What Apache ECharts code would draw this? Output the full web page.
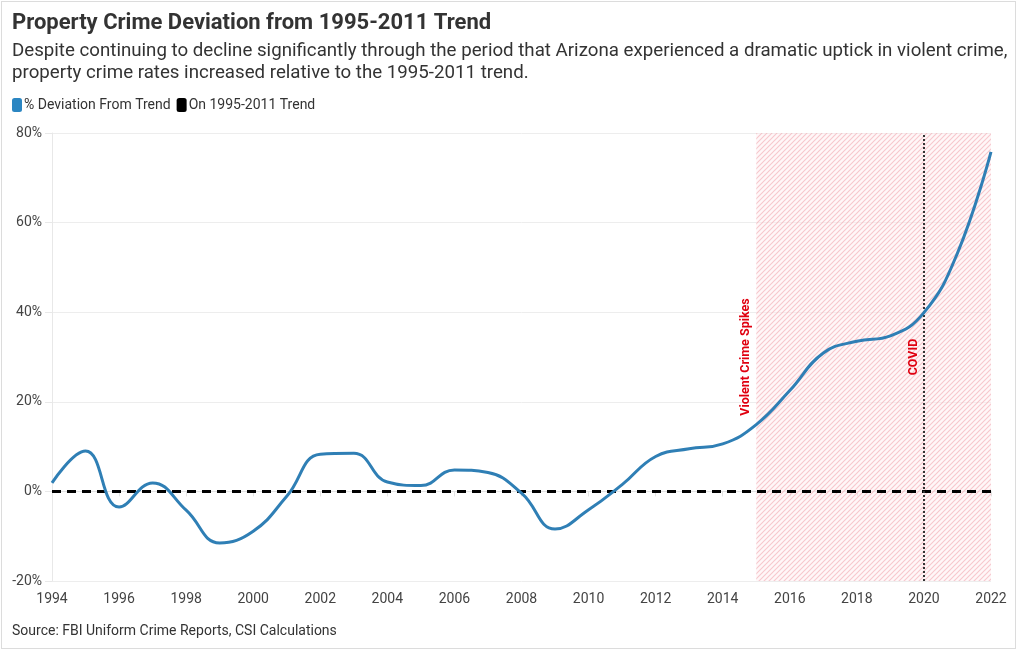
<!DOCTYPE html>
<html>
<head>
<meta charset="utf-8">
<script src="https://cdn.jsdelivr.net/npm/echarts@6/dist/echarts.min.js"></script>
<style>
html,body{margin:0;padding:0;background:#fff;}
#frame{position:absolute;left:1px;top:1px;width:1013px;height:646px;border:1px solid #dcdcdc;}
#chart{position:absolute;left:0;top:0;width:1020px;height:650px;}
</style>
</head>
<body>
<div id="frame"></div>
<div id="chart"></div>
<script>
const years = [1994,1995,1996,1997,1998,1999,2000,2001,2002,2003,2004,2005,2006,2007,2008,2009,2010,2011,2012,2013,2014,2015,2016,2017,2018,2019,2020,2021,2022];
const deviation = [1.9,9.0,-3.5,1.9,-4.2,-11.5,-8.9,-1.1,8.3,8.5,2.1,1.3,4.8,4.2,-0.4,-8.4,-4.1,1.5,7.8,9.5,10.6,14.9,22.5,30.9,33.5,34.7,39.9,53.2,75.8];
const trend = [0,0,0,0,0,0,0,0,0,0,0,0,0,0,0,0,0,0,0,0,0,0,0,0,0,0,0,0,0];
const yTicks = [-20,0,20,40,60,80];
const spikeStart = 2015, spikeEnd = 2022, covidYear = 2020, labelLevel = 30;

function hatch(){
  const c = document.createElement('canvas');
  c.width = 5; c.height = 5;
  const g = c.getContext('2d');
  g.fillStyle = 'rgba(255,238,240,0.45)';
  g.fillRect(0,0,5,5);
  g.strokeStyle = 'rgba(238,160,170,0.55)';
  g.lineWidth = 1.1;
  g.beginPath();
  g.moveTo(-1,6); g.lineTo(6,-1);
  g.moveTo(-1,1); g.lineTo(1,-1);
  g.moveTo(4,6); g.lineTo(6,4);
  g.stroke();
  return c;
}

const chart = echarts.init(document.getElementById('chart'));
const FONT = 'Roboto';
chart.setOption({
  backgroundColor: 'transparent',
  textStyle: {fontFamily: FONT},
  title: [
    {text: 'Property Crime Deviation from 1995-2011 Trend', left: 7, top: 7,
     textStyle: {fontFamily: FONT, fontSize: 22, fontWeight: 'bold', color: '#333'}},
    {text: 'Despite continuing to decline significantly through the period that Arizona experienced a dramatic uptick in violent crime,\nproperty crime rates increased relative to the 1995-2011 trend.',
     left: 7, top: 35,
     textStyle: {fontFamily: FONT, fontSize: 18.7, fontWeight: 'normal', color: '#333', lineHeight: 22}},
    {text: 'Source: FBI Uniform Crime Reports, CSI Calculations', left: 7, top: 619,
     textStyle: {fontFamily: FONT, fontSize: 14, fontWeight: 'normal', color: '#333'}}
  ],
  legend: {
    left: 7, top: 93, itemWidth: 10, itemHeight: 14, itemGap: 6,
    icon: 'roundRect',
    textStyle: {fontFamily: FONT, fontSize: 14, color: '#333', padding: [0,0,0,-3]},
    data: ['% Deviation From Trend', 'On 1995-2011 Trend']
  },
  grid: {left: 52, right: 29, top: 133, bottom: 69, containLabel: false},
  xAxis: {
    type: 'value', min: 1994, max: 2022, interval: 2,
    axisLine: {show: true, lineStyle: {color: '#e3e3e3'}},
    axisTick: {show: true, length: 5, lineStyle: {color: '#e3e3e3'}},
    axisLabel: {formatter: v => String(v), fontSize: 14, color: '#444', margin: 11, fontFamily: FONT},
    splitLine: {show: false}
  },
  yAxis: {
    type: 'value', min: yTicks[0], max: yTicks[yTicks.length-1], interval: 20,
    axisLine: {show: true, lineStyle: {color: '#e8e8e8'}},
    axisTick: {show: true, length: 7, lineStyle: {color: '#e8e8e8'}},
    axisLabel: {formatter: '{value}%', fontSize: 14, color: '#444', margin: 10, fontFamily: FONT},
    splitLine: {show: true, lineStyle: {color: '#ededed'}}
  },
  series: [
    {
      name: '% Deviation From Trend', type: 'line', smooth: 0.45,
      data: years.map((y,i) => [y, deviation[i]]),
      showSymbol: false, symbol: 'none',
      color: '#2b86c2',
      lineStyle: {width: 3, color: '#2f7fb5'},
      z: 5,
      markArea: {
        silent: true,
        itemStyle: {color: {image: hatch(), repeat: 'repeat'}},
        data: [[{xAxis: spikeStart}, {xAxis: spikeEnd}]]
      },
      markPoint: {
        silent: true,
        symbol: 'circle', symbolSize: 0,
        itemStyle: {color: 'rgba(0,0,0,0)'},
        label: {show: true, position: 'inside', rotate: 90, color: '#e00010',
                fontWeight: 'bold', fontSize: 12.5, fontFamily: FONT},
        data: [
          {coord: [spikeStart, labelLevel], value: 'Violent Crime Spikes',
           label: {formatter: 'Violent Crime Spikes', offset: [0, -10]}},
          {coord: [covidYear, labelLevel], value: 'COVID',
           label: {formatter: 'COVID', offset: [0, -10]}}
        ]
      }
    },
    {
      name: 'On 1995-2011 Trend', type: 'line',
      data: years.map((y,i) => [y, trend[i]]),
      showSymbol: false, symbol: 'none',
      color: '#000',
      lineStyle: {width: 3, color: '#000', type: [9, 6]},
      z: 4,
      markLine: {
        silent: true, symbol: 'none',
        label: {show: false},
        lineStyle: {color: '#333', width: 2, type: [2, 2]},
        data: [{xAxis: covidYear}]
      }
    }
  ]
});
</script>
</body>
</html>
